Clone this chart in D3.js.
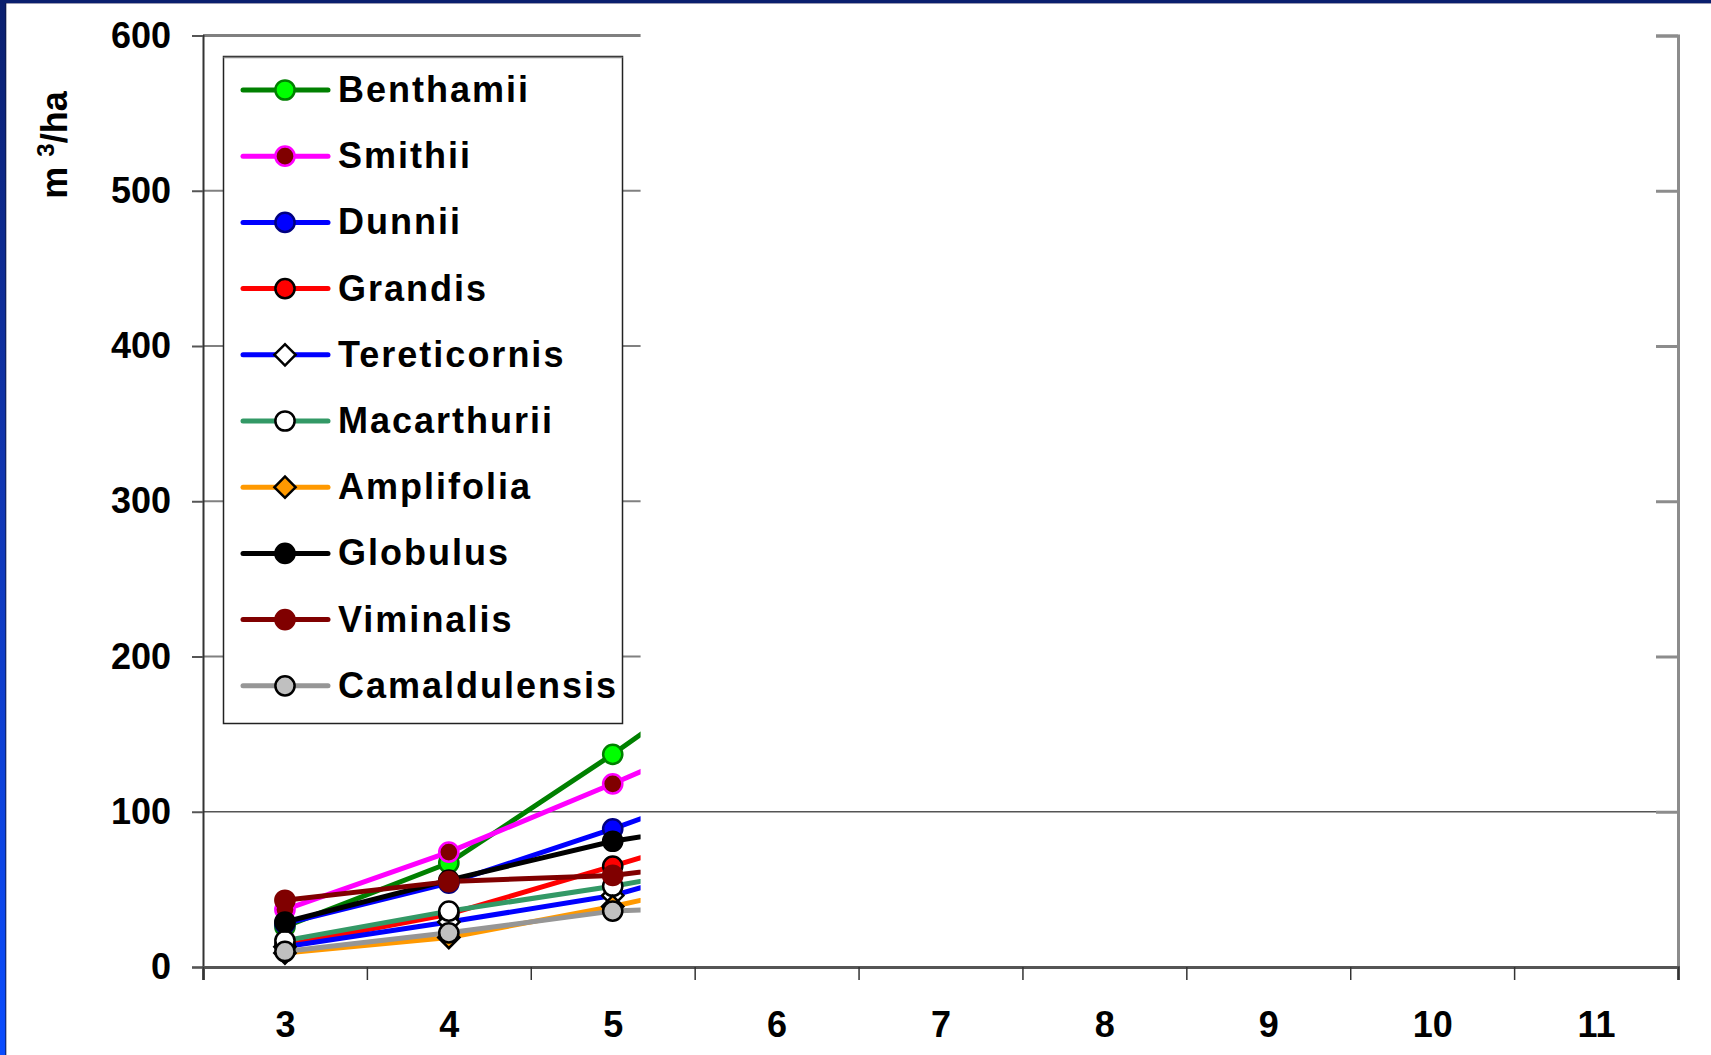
<!DOCTYPE html>
<html>
<head>
<meta charset="utf-8">
<script src="https://cdn.jsdelivr.net/npm/d3@7/dist/d3.min.js"></script>
<style>
  html, body { margin: 0; padding: 0; background: #ffffff; }
  svg { display: block; }
  text { font-family: "Liberation Sans", Arial, sans-serif; font-weight: bold; fill: #000; }
</style>
</head>
<body>
<svg id="chart" width="1711" height="1055"></svg>
<script>
// ---- data ----
const years = [3, 4, 5, 6, 7, 8, 9, 10, 11];
const yTicks = [0, 100, 200, 300, 400, 500, 600];
const seriesNames = ["Benthamii", "Smithii", "Dunnii", "Grandis", "Tereticornis",
                     "Macarthurii", "Amplifolia", "Globulus", "Viminalis", "Camaldulensis"];
// values for years 3,4,5,6 (later years hidden in the reference)
const benthamii     = [26, 67, 137, 212];
const smithii       = [37, 74, 118, 164];
const dunnii        = [28, 54, 89, 127];
const grandis       = [14, 34, 65, 97];
const tereticornis  = [13, 29, 46, 76];
const macarthurii   = [17, 36, 52, 71];
const amplifolia    = [9, 19, 39, 62];
const globulus      = [29, 56, 81, 98];
const viminalis     = [43, 55, 59, 72];
const camaldulensis = [10, 22, 36, 40];
const revealYear = 5.17;   // chart is wiped in only up to here

// ---- styles ----
const styles = [
  {line: "#008000", fill: "#00ff00", stroke: "#008000", shape: "circle"},
  {line: "#ff00ff", fill: "#800000", stroke: "#ff00ff", shape: "circle"},
  {line: "#0000ff", fill: "#0000ff", stroke: "#000080", shape: "circle"},
  {line: "#ff0000", fill: "#ff0000", stroke: "#000000", shape: "circle"},
  {line: "#0000ff", fill: "#ffffff", stroke: "#000000", shape: "diamond"},
  {line: "#339966", fill: "#ffffff", stroke: "#000000", shape: "circle"},
  {line: "#ff9900", fill: "#ff9900", stroke: "#000000", shape: "diamond"},
  {line: "#000000", fill: "#000000", stroke: "#000000", shape: "circle"},
  {line: "#800000", fill: "#800000", stroke: "#800000", shape: "circle"},
  {line: "#969696", fill: "#c0c0c0", stroke: "#000000", shape: "circle"}
];
const allValues = [benthamii, smithii, dunnii, grandis, tereticornis,
                   macarthurii, amplifolia, globulus, viminalis, camaldulensis];
const series = seriesNames.map((n, i) => ({name: n, values: allValues[i], style: styles[i]}));

const svg = d3.select("#chart");
const W = 1711, H = 1055;

// slide frame
const defs = svg.append("defs");
const grad = defs.append("linearGradient").attr("id", "leftGrad")
  .attr("x1", 0).attr("y1", 0).attr("x2", 0).attr("y2", 1);
grad.append("stop").attr("offset", "0%").attr("stop-color", "#0a1f6e");
grad.append("stop").attr("offset", "45%").attr("stop-color", "#1035b0");
grad.append("stop").attr("offset", "100%").attr("stop-color", "#0a4cff");
svg.append("rect").attr("x", 0).attr("y", 0).attr("width", W).attr("height", 3).attr("fill", "#0a1f6e");
svg.append("rect").attr("x", 0).attr("y", 3).attr("width", W).attr("height", 1).attr("fill", "#3a3a6a").attr("opacity", 0.5);
svg.append("rect").attr("x", 0).attr("y", 0).attr("width", 6).attr("height", H).attr("fill", "url(#leftGrad)");
svg.append("rect").attr("x", 5).attr("y", 3).attr("width", 1.5).attr("height", H).attr("fill", "#0a1440").attr("opacity", 0.6);

// scales
const x = d3.scaleLinear().domain([2.5, 11.5]).range([203, 1678]);
const y = d3.scaleLinear().domain([0, 600]).range([967, 35.5]);
const clipX = x(revealYear);

defs.append("clipPath").attr("id", "reveal")
  .append("rect").attr("x", 0).attr("y", 0).attr("width", clipX).attr("height", H);

// gridlines (revealed part)
svg.append("g").attr("clip-path", "url(#reveal)")
  .selectAll("line").data(yTicks.filter(d => d > 100)).join("line")
  .attr("x1", x(2.5)).attr("x2", x(11.5))
  .attr("y1", d => y(d)).attr("y2", d => y(d))
  .attr("stroke", "#808080").attr("stroke-width", d => d === 600 ? 3 : 2);
// gridline at 100 fully visible
svg.append("line")
  .attr("x1", x(2.5)).attr("x2", x(11.5)).attr("y1", y(100)).attr("y2", y(100))
  .attr("stroke", "#555").attr("stroke-width", 1.5);

// right axis (inward ticks)
const rAxis = svg.append("g").attr("transform", `translate(${x(11.5)},0)`)
  .call(d3.axisLeft(y).tickValues(yTicks.filter(d => d > 0)).tickSize(22).tickFormat(""));
rAxis.select(".domain").attr("stroke", "#8c8c8c").attr("stroke-width", 3);
rAxis.selectAll(".tick line").attr("stroke", "#8c8c8c").attr("stroke-width", 3);

// left axis
const lAxis = svg.append("g").attr("transform", `translate(${x(2.5)},0)`)
  .call(d3.axisLeft(y).tickValues(yTicks).tickSize(11).tickPadding(21));
lAxis.select(".domain").attr("stroke", "#333").attr("stroke-width", 2);
lAxis.selectAll(".tick line").attr("stroke", "#555").attr("stroke-width", 2);
lAxis.selectAll(".tick text").attr("font-size", 36).attr("font-family", "Liberation Sans, Arial, sans-serif")
  .attr("font-weight", "bold").attr("fill", "#000");

// x axis
const bounds = d3.range(2.5, 12, 1);
const xAxis = svg.append("g").attr("transform", `translate(0,${y(0)})`)
  .call(d3.axisBottom(x).tickValues(bounds).tickSize(13).tickFormat(""));
xAxis.select(".domain").attr("stroke", "#555").attr("stroke-width", 3);
xAxis.selectAll(".tick line").attr("stroke", "#333").attr("stroke-width", 1.5);
const xLab = svg.append("g").attr("transform", `translate(0,${y(0)})`)
  .call(d3.axisBottom(x).tickValues(years).tickSize(0).tickFormat(d3.format("d")));
xLab.select(".domain").remove();
xLab.selectAll(".tick text").attr("y", 70).attr("dy", 0).attr("font-size", 36)
  .attr("font-family", "Liberation Sans, Arial, sans-serif").attr("font-weight", "bold").attr("fill", "#000");

// y axis title
const yt = svg.append("text").attr("transform", "translate(67,145) rotate(-90)")
  .attr("text-anchor", "middle").attr("font-size", 36);
yt.append("tspan").text("m ");
yt.append("tspan").attr("font-size", 24).attr("dy", -13).text("3");
yt.append("tspan").attr("dy", 13).text("/ha");

// series
const line = d3.line().x((d, i) => x(years[i])).y(d => y(d));
const sym = {
  circle: d3.symbol().type(d3.symbolCircle).size(Math.PI * 9.6 * 9.6),
  diamond: d3.symbol().type(d3.symbolSquare).size(15 * 15)
};
function marker(g, s, cx, cy) {
  const p = g.append("path").attr("d", sym[s.shape]())
    .attr("fill", s.fill).attr("stroke", s.stroke).attr("stroke-width", 2.5);
  p.attr("transform", `translate(${cx},${cy})` + (s.shape === "diamond" ? " rotate(45)" : ""));
}
const dataG = svg.append("g").attr("clip-path", "url(#reveal)");
series.forEach(s => {
  dataG.append("path").attr("d", line(s.values)).attr("fill", "none")
    .attr("stroke", s.style.line).attr("stroke-width", 5).attr("stroke-linejoin", "round");
});
series.forEach(s => {
  const g = dataG.append("g");
  s.values.forEach((v, i) => marker(g, s.style, x(years[i]), y(v)));
});

// legend
const legX = 223.5, legY = 56.5, legW = 399, legH = 667;
svg.append("rect").attr("x", legX).attr("y", legY).attr("width", legW).attr("height", legH)
  .attr("fill", "#fff").attr("stroke", "#222").attr("stroke-width", 1.5);
svg.append("line").attr("x1", legX).attr("x2", legX + legW).attr("y1", legY + 1).attr("y2", legY + 1)
  .attr("stroke", "#888").attr("stroke-width", 1.5);
const rowH = 66.2;
series.forEach((s, i) => {
  const cy = 90 + i * rowH;
  const g = svg.append("g");
  g.append("line").attr("x1", 243).attr("x2", 328).attr("y1", cy).attr("y2", cy)
    .attr("stroke", s.style.line).attr("stroke-width", 5).attr("stroke-linecap", "round");
  marker(g, s.style, 285, cy);
  g.append("text").attr("x", 338).attr("y", cy + 12).attr("font-size", 36)
    .attr("letter-spacing", 2).text(s.name);
});
</script>
</body>
</html>
